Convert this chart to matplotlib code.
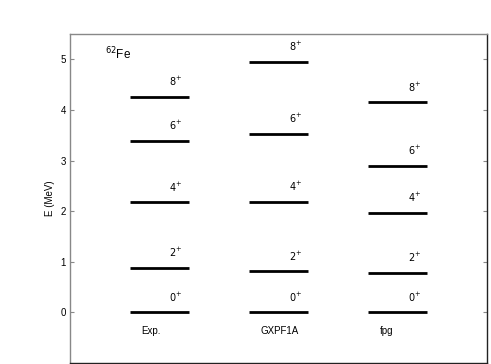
import matplotlib
matplotlib.use("Agg")
import matplotlib.pyplot as plt

plt.rcParams['font.family'] = ['Liberation Sans', 'DejaVu Sans']
plt.rcParams['mathtext.fontset'] = 'custom'

methods = ["Exp.", "GXPF1A", "fpg"]
spins = ["0", "2", "4", "6", "8"]
exp_E = [0.0, 0.877, 2.174, 3.393, 4.257]
gxpf1a_E = [0.0, 0.81, 2.18, 3.53, 4.95]
fpg_E = [0.0, 0.785, 1.964, 2.90, 4.15]
nucleus = "$^{62}$Fe"
ylabel = "E (MeV)"
yticks = [0, 1, 2, 3, 4, 5]

energies = [exp_E, gxpf1a_E, fpg_E]

fig = plt.figure(figsize=(4.91, 3.64), dpi=100)
ax = fig.add_axes([70/491, 1 - 363/364, (487-70)/491, (363-34)/364])

gray = '#888888'
dark = '#222222'
for i, (name, levels) in enumerate(zip(methods, energies)):
    x0 = 0.5 + i
    x1 = 1.0 + i
    for s, e in zip(spins, levels):
        ax.plot([x0, x1], [e, e], color='black', lw=2.0, solid_capstyle='butt')
        ax.text(x0 + 0.39, e + 0.3, f"${s}^{{+}}$", fontsize=7, ha='center',
                va='center')
    ax.text(x0 + 0.1, -0.36, name, fontsize=7, ha='left', va='center')

ax.text(0.29, 5.11, nucleus, fontsize=8.5, ha='left', va='center')

ax.set_xlim(0, 3.5)
ax.set_ylim(-1, 5.5)
ax.set_xticks([])
ax.set_yticks(yticks)
ax.set_yticklabels([str(t) for t in yticks], fontsize=7)
ax.tick_params(axis='y', direction='in', length=3, width=0.8, color=gray,
               right=True, left=True, pad=3)
ax.set_ylabel(ylabel, fontsize=7, labelpad=4)

ax.spines['left'].set_color(gray)
ax.spines['top'].set_color(gray)
ax.spines['right'].set_color(dark)
ax.spines['bottom'].set_color(dark)
for sp in ax.spines.values():
    sp.set_linewidth(1.0)

fig.savefig("out.png", dpi=100)
